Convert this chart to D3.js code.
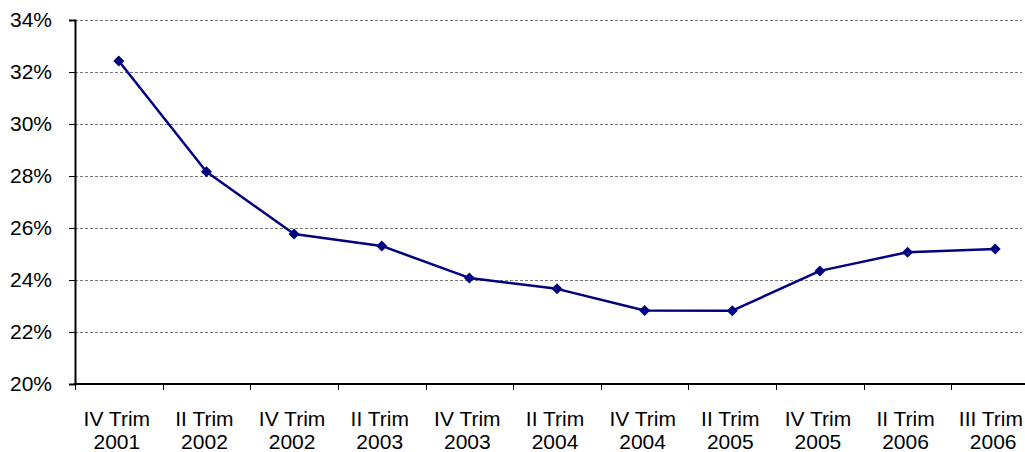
<!DOCTYPE html>
<html>
<head>
<meta charset="utf-8">
<script src="https://cdn.jsdelivr.net/npm/d3@7"></script>
<style>
  html, body { margin: 0; padding: 0; background: #fff; }
  svg { display: block; font-family: "Liberation Sans", Arial, sans-serif; }
</style>
</head>
<body>
<svg id="chart" width="1025" height="452"></svg>
<script>
// Quarterly series, share in percent
const quarters = ["IV Trim", "II Trim", "IV Trim", "II Trim", "IV Trim", "II Trim", "IV Trim", "II Trim", "IV Trim", "II Trim", "III Trim"];
const years = ["2001", "2002", "2002", "2003", "2003", "2004", "2004", "2005", "2005", "2006", "2006"];
const values = [32.42, 28.16, 25.77, 25.31, 24.08, 23.66, 22.83, 22.82, 24.35, 25.07, 25.19];
const yTicks = [20, 22, 24, 26, 28, 30, 32, 34];

const W = 1025;
const svg = d3.select("#chart");
const margin = { left: 75, top: 20, right: 1039, bottom: 384 };
const fontSize = "21px";

const categories = quarters.map((q, i) => i);
const x = d3.scaleBand().domain(categories).range([margin.left, margin.right]).padding(0);
const y = d3.scaleLinear().domain([20, 34]).range([margin.bottom, margin.top]);

// Dashed horizontal gridlines
svg.append("g")
  .selectAll("line")
  .data(yTicks.filter(t => t > 20))
  .join("line")
  .attr("x1", margin.left)
  .attr("x2", 1022)
  .attr("y1", d => Math.round(y(d)) + 0.5)
  .attr("y2", d => Math.round(y(d)) + 0.5)
  .attr("stroke", "#777")
  .attr("stroke-width", 1)
  .attr("stroke-dasharray", "3,2");

// Y axis
const yAxis = svg.append("g")
  .attr("transform", `translate(${margin.left},0)`)
  .call(d3.axisLeft(y).tickValues(yTicks).tickSize(6).tickPadding(17).tickFormat(d => d + "%"));
yAxis.select(".domain").attr("stroke", "#000").attr("stroke-width", 2);
yAxis.selectAll(".tick line").attr("stroke", "#000").attr("stroke-width", 1);
yAxis.selectAll(".tick text")
  .attr("fill", "#000")
  .style("font-size", fontSize)
  .style("font-family", "Liberation Sans, Arial, sans-serif");

// X axis with category boundary ticks
const xg = svg.append("g");
xg.append("line")
  .attr("x1", margin.left - 1)
  .attr("x2", W)
  .attr("y1", margin.bottom)
  .attr("y2", margin.bottom)
  .attr("stroke", "#000")
  .attr("stroke-width", 2);
const boundaries = categories.map(i => x(i)).concat([x(categories.length - 1) + x.bandwidth()]);
xg.selectAll("line.bt")
  .data(boundaries)
  .join("line")
  .attr("class", "bt")
  .attr("x1", d => Math.round(d) + 0.5)
  .attr("x2", d => Math.round(d) + 0.5)
  .attr("y1", margin.bottom)
  .attr("y2", margin.bottom + 6)
  .attr("stroke", "#000")
  .attr("stroke-width", 1);

// Two-line category labels, kept inside the right edge
const labelX = d => x(d) + x.bandwidth() / 2 - 2;
function addLine(text, yPos) {
  xg.selectAll(null)
    .data(categories)
    .join("text")
    .attr("text-anchor", "middle")
    .attr("fill", "#000")
    .style("font-size", fontSize)
    .attr("x", d => labelX(d))
    .attr("y", yPos)
    .text(d => text[d])
    .each(function(d) {
      const w = this.getComputedTextLength();
      const cx = labelX(d);
      if (cx + w / 2 > W - 2) d3.select(this).attr("x", W - 2 - w / 2);
    });
}
addLine(quarters, 426);
addLine(years, 448.5);

// Series line
const cx = i => x(i) + x.bandwidth() / 2;
svg.append("path")
  .datum(values)
  .attr("fill", "none")
  .attr("stroke", "#000080")
  .attr("stroke-width", 2.5)
  .attr("stroke-linejoin", "round")
  .attr("d", d3.line().x((d, i) => cx(i)).y(d => y(d)));

// Diamond markers
svg.append("g")
  .selectAll("path")
  .data(values)
  .join("path")
  .attr("transform", (d, i) => `translate(${cx(i)},${y(d)})`)
  .attr("d", "M0,-5.5L5.5,0L0,5.5L-5.5,0Z")
  .attr("fill", "#000080");
</script>
</body>
</html>
